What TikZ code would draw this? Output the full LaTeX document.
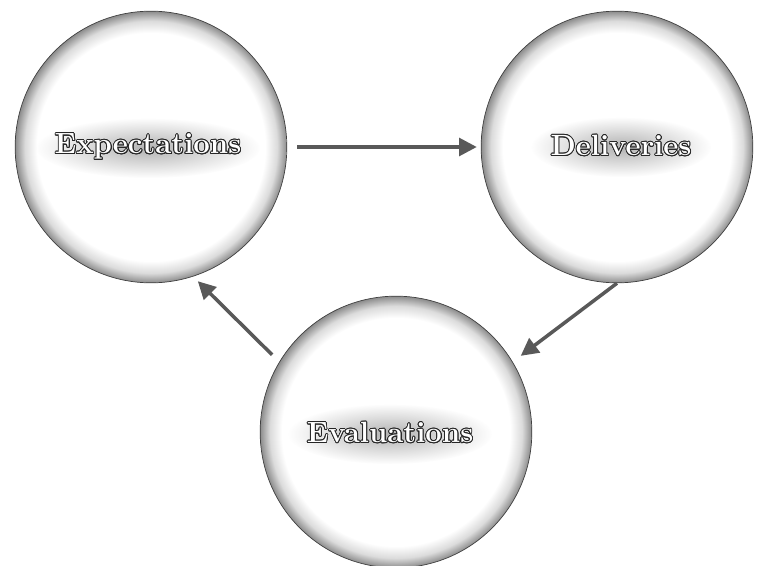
\documentclass[tikz,border=0pt]{standalone}
\usepackage{tikz}
\usepackage{contour}
\usetikzlibrary{arrows.meta,fadings}

\pgfdeclareradialshading{ballgray}{\pgfpoint{0bp}{0bp}}{color(0bp)=(white); color(21bp)=(white); color(23.2bp)=(black!14); color(25bp)=(black!45); color(50bp)=(black!45)}
\tikzfading[name=hazefade, inner color=transparent!0, outer color=transparent!100]
\contourlength{0.75pt}
\newcommand{\embossed}[1]{\contour{black!85}{\textcolor{white}{#1}}}

\begin{document}
\begin{tikzpicture}[x=0.03cm,y=-0.03cm,
  ball/.style={circle, minimum size=8.15cm, inner sep=0pt, draw=black!75, line width=0.6pt,
    shading=ballgray},
  word/.style={font=\fontsize{25}{30}\selectfont\bfseries},
  haze/.style={fill=black!30, path fading=hazefade},
  link/.style={draw=black!65, line width=3pt, -{Triangle[length=15pt,width=15pt]}}]
 \path[use as bounding box] (0,0) rectangle (767,565);

\node[ball] (expect) at (151,147) {};
\node[ball] (deliver) at (617,147) {};
\node[ball] (evaluate) at (396,432) {};

% soft grey haze behind the words
\fill[haze] (148,148) ellipse [x radius=112, y radius=30];
\fill[haze] (621,147) ellipse [x radius=90, y radius=30];
\fill[haze] (390,434) ellipse [x radius=102, y radius=30];

\node[word] (expecttext) at (148,147) {\embossed{Expectations}};
\node[word] (delivertext) at (621,146) {\embossed{Deliveries}};
\node[word] (evaluatetext) at (390,433) {\embossed{Evaluations}};

\draw[link, shorten <=0.3cm, shorten >=0.12cm] (expect.east) -- (deliver.west);
\draw[link, shorten >=0.3cm] (deliver.south) -- (evaluate.31);
\draw[link, shorten <=0.3cm, shorten >=0.2cm] (evaluate.149) -- (expect.-72);

\end{tikzpicture}
\end{document}
